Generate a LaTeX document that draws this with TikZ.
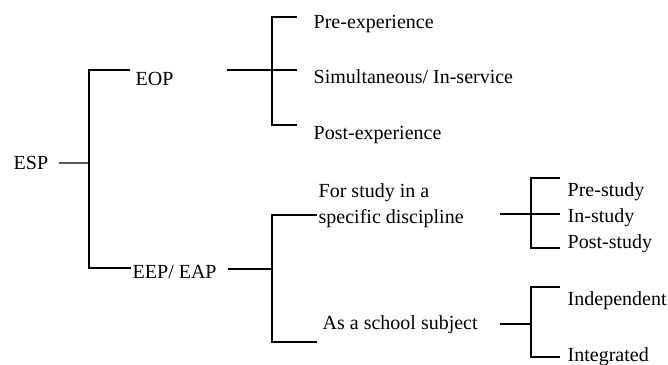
\documentclass[tikz,border=0pt]{standalone}
\usepackage{fontspec}
\setmainfont{Liberation Serif}

\begin{document}
\begin{tikzpicture}[x=0.5pt, y=-0.5pt, line width=0.7pt,
	item/.style={anchor=base west, inner sep=0pt, align=left,
		font=\fontsize{10}{13}\selectfont}]
	\useasboundingbox (0,0) rectangle (668,364);
	% labels
	\node[item] (esp)   at (13,169.5)  {ESP};
	\node[item] (eop)   at (135,85.5)  {EOP};
	\node[item] (eep)   at (132,278.5) {EEP/ EAP};
	\node[item] (pre)   at (313,28.5)  {Pre-experience};
	\node[item] (sim)   at (313,83.5)  {Simultaneous/ In-service};
	\node[item] (post)  at (313,139.5) {Post-experience};
	\node[item] (spec)  at (318,223.5) {For study in a\\specific discipline};
	\node[item] (school) at (322,329.5) {As a school subject};
	\node[item] (prest) at (567,196.5) {Pre-study};
	\node[item] (inst)  at (567,222.5) {In-study};
	\node[item] (postst) at (567,248.5) {Post-study};
	\node[item] (ind)   at (567,305.5) {Independent};
	\node[item] (int)   at (567,361.5) {Integrated};
	% bracket points
	\coordinate (espfork) at (89,163);
	\coordinate (eoptip) at (130,70);
	\coordinate (eeptip) at (131,268);
	\coordinate (eopout) at (227,70);
	\coordinate (eopfork) at (272,70);
	\coordinate (pretip) at (297,17);
	\coordinate (simtip) at (297,70);
	\coordinate (posttip) at (297,125);
	\coordinate (eepout) at (228,269);
	\coordinate (eepfork) at (272,269);
	\coordinate (spectip) at (317,215);
	\coordinate (schooltip) at (317,342);
	\coordinate (specout) at (500,214);
	\coordinate (specfork) at (531,214);
	\coordinate (prestip) at (560,178);
	\coordinate (instip) at (560,214);
	\coordinate (poststip) at (560,248);
	\coordinate (schoolout) at (500,324);
	\coordinate (schoolfork) at (531,324);
	\coordinate (indtip) at (560,287);
	\coordinate (inttip) at (560,357);
	% connectors
	\draw[shorten <=5pt] (esp.east) -- (espfork);
	\draw (eoptip) -| (espfork) |- (eeptip);
	\draw (eopout) -- (simtip);
	\draw (pretip) -| (eopfork) |- (posttip);
	\draw (eepout) -- (eepfork);
	\draw (spectip) -| (eepfork) |- (schooltip);
	\draw (specout) -- (instip);
	\draw (prestip) -| (specfork) |- (poststip);
	\draw (schoolout) -- (schoolfork);
	\draw (indtip) -| (schoolfork) |- (inttip);
\end{tikzpicture}
\end{document}
